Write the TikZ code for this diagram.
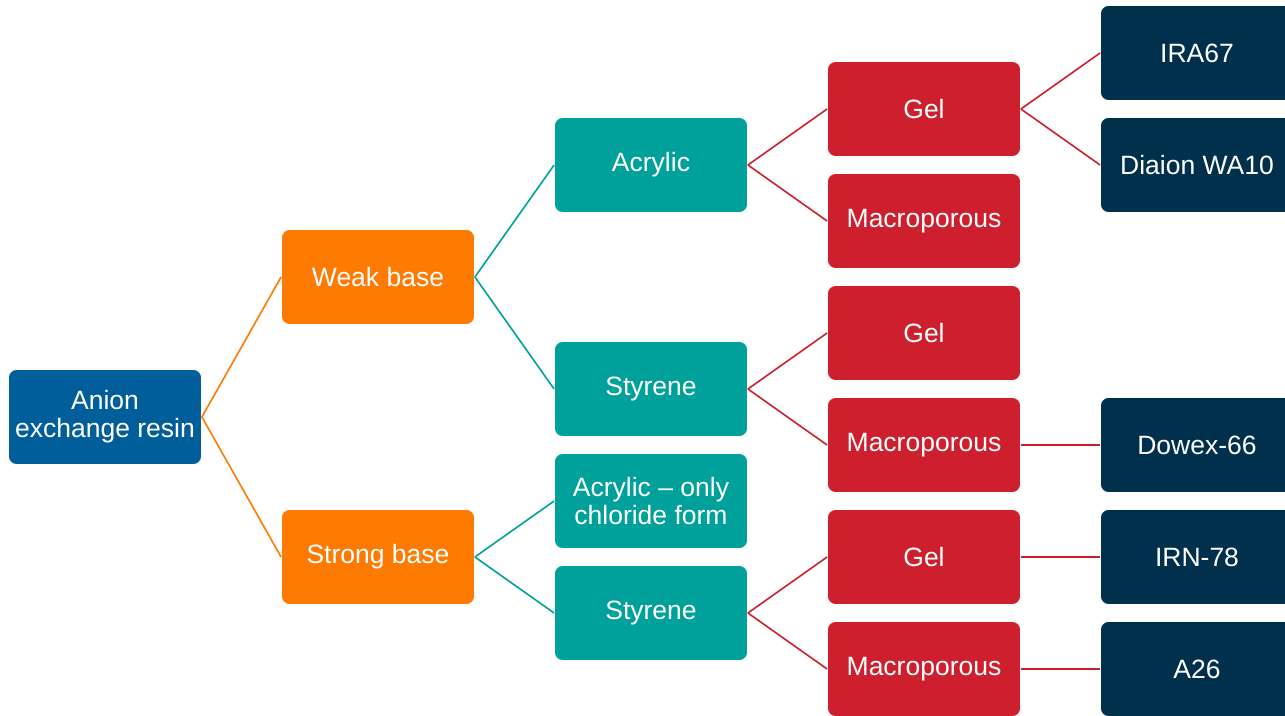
\documentclass[tikz,border=0pt]{standalone}
\usepackage{fontspec}
\setmainfont{Liberation Sans}
\definecolor{cblue}{RGB}{0,94,154}
\definecolor{corange}{RGB}{255,122,0}
\definecolor{cteal}{RGB}{0,161,154}
\definecolor{cred}{RGB}{206,31,46}
\definecolor{cnavy}{RGB}{1,48,77}
\begin{document}
\begin{tikzpicture}[x=1pt,y=-1pt,
  box/.style={rounded corners=8pt,draw=white,line width=0.8pt,text=white,
    minimum width=193pt,minimum height=95pt,align=center,inner sep=2pt,
    font=\fontsize{26.5}{28}\selectfont},
  leaf/.style={box,fill=cnavy},
  lnk/.style={line width=1.6pt}]
\useasboundingbox (0,0) rectangle (1285,715);
\begin{scope}
\clip (0,0) rectangle (1285,715);
\node[box,fill=cblue] (root) at (105,417) {Anion\\exchange resin};
\node[box,fill=corange] (weak) at (378,277) {Weak base};
\node[box,fill=corange] (strong) at (378,557) {Strong base};
\node[box,fill=cteal] (acr1) at (651,165) {Acrylic};
\node[box,fill=cteal] (sty1) at (651,389) {Styrene};
\node[box,fill=cteal] (acr2) at (651,501) {Acrylic -- only\\chloride form};
\node[box,fill=cteal] (sty2) at (651,613) {Styrene};
\node[box,fill=cred] (gel1) at (924,109) {Gel};
\node[box,fill=cred] (mac1) at (924,221) {Macroporous};
\node[box,fill=cred] (gel2) at (924,333) {Gel};
\node[box,fill=cred] (mac2) at (924,445) {Macroporous};
\node[box,fill=cred] (gel3) at (924,557) {Gel};
\node[box,fill=cred] (mac3) at (924,669) {Macroporous};
\node[leaf] (ira) at (1197,53) {IRA67};
\node[leaf] (dia) at (1197,165) {Diaion WA10};
\node[leaf] (dow) at (1197,445) {Dowex-66};
\node[leaf] (irn) at (1197,557) {IRN-78};
\node[leaf] (a26) at (1197,669) {A26};
\end{scope}
\draw[lnk,corange] (root.east) -- (weak.west);
\draw[lnk,corange] (root.east) -- (strong.west);
\draw[lnk,cteal] (weak.east) -- (acr1.west);
\draw[lnk,cteal] (weak.east) -- (sty1.west);
\draw[lnk,cteal] (strong.east) -- (acr2.west);
\draw[lnk,cteal] (strong.east) -- (sty2.west);
\draw[lnk,cred] (acr1.east) -- (gel1.west);
\draw[lnk,cred] (acr1.east) -- (mac1.west);
\draw[lnk,cred] (sty1.east) -- (gel2.west);
\draw[lnk,cred] (sty1.east) -- (mac2.west);
\draw[lnk,cred] (sty2.east) -- (gel3.west);
\draw[lnk,cred] (sty2.east) -- (mac3.west);
\draw[lnk,cred] (gel1.east) -- (ira.west);
\draw[lnk,cred] (gel1.east) -- (dia.west);
\draw[lnk,cred] (mac2.east) -- (dow.west);
\draw[lnk,cred] (gel3.east) -- (irn.west);
\draw[lnk,cred] (mac3.east) -- (a26.west);
\end{tikzpicture}
\end{document}
